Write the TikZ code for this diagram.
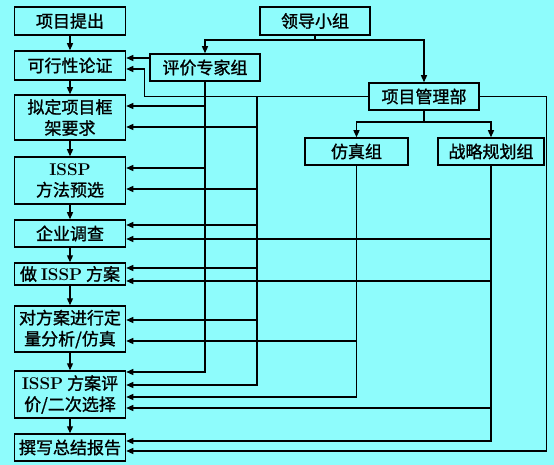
\documentclass[tikz,border=0pt]{standalone}
\usepackage{fontspec}
\newfontfamily\cjk{Noto Sans CJK SC}[FakeBold=1.2]
\usetikzlibrary{arrows.meta}
\definecolor{bgcyan}{RGB}{142,252,252}
\newcommand{\issp}{\textrm{\bfseries ISSP}}

\begin{document}
\begin{tikzpicture}[
    x=1pt, y=-1pt,
    box/.style={
      draw, line width=1.5pt, minimum width=111pt, minimum height=#1,
      inner sep=1pt, align=center, font=\cjk\fontsize{17}{21}\selectfont
    },
    box/.default=27pt,
    link/.style={line width=1.2pt},
    >={Triangle[length=7pt,width=6pt]}
  ]
  \fill[bgcyan] (0,0) rectangle (554,465);

  % Project steps (left column, top to bottom)
  \node[box=28pt] (b1) at (70,21)    {项目提出};
  \node[box=29pt] (b2) at (70,65.5)  {可行性论证};
  \node[box=45pt] (b3) at (70,117.5) {拟定项目框\\架要求};
  \node[box=47pt] (b4) at (70,180.5) {\issp\\方法预选};
  \node[box=27pt] (b5) at (70,233.5) {企业调查};
  \node[box=22pt] (b6) at (70,274)   {做 \issp{} 方案};
  \node[box=46pt] (b7) at (70,329)   {对方案进行定\\量分析/仿真};
  \node[box=47pt] (b8) at (70,394.5) {\issp{} 方案评\\价/二次选择};
  \node[box=27pt] (b9) at (70,447.5) {撰写总结报告};

  % Organisation (right)
  \node[box=28pt, minimum width=110pt] (lead) at (315,21)    {领导小组};
  \node[box=27pt, minimum width=110pt] (exp)  at (205,67.5)  {评价专家组};
  \node[box=27pt, minimum width=110pt] (pm)   at (424,96.5)  {项目管理部};
  \node[box=27pt, minimum width=103pt] (sim)  at (356.5,151.5) {仿真组};
  \node[box=27pt, minimum width=106pt] (plan) at (491,151.5) {战略规划组};

  % Step chain
  \foreach \i/\j in {b1/b2, b2/b3, b3/b4, b4/b5, b5/b6, b6/b7, b7/b8, b8/b9} {
    \draw[link,->] (\i) -- (\j);
  }

  % Leadership tree
  \coordinate (j1) at (lead.south |- 0,40);
  \draw[link] (lead.south) -- (j1);
  \draw[link,->] (j1) -| (exp.north);
  \draw[link,->] (j1) -| (pm.north);
  \coordinate (j2) at (pm.south |- 0,122);
  \draw[link] (pm.south) -- (j2);
  \draw[link,->] (j2) -| (sim.north);
  \draw[link,->] (j2) -| (plan.north);

  % Expert group
  \draw[link,->] (exp.west |- 0,58) -- (b2.east |- 0,58);
  \draw[link,->] (exp.south) |- (b8.east |- 0,372);
  \foreach \b/\y in {b3/106, b4/168} {
    \draw[link,->] (exp.south |- 0,\y) -- (\b.east |- 0,\y);
  }

  % Management
  \draw[link,->] (pm.west) -- ++(-224,0) |- (b2.east |- 0,69);
  \coordinate (t1) at (257,96.5);
  \draw[link,->] (t1) |- (b8.east |- 0,385);
  \foreach \b/\y in {b3/127, b4/189, b5/225, b6/268, b7/320} {
    \draw[link,->] (t1 |- 0,\y) -- (\b.east |- 0,\y);
  }
  \draw[link,->] (pm.east) -- ++(67,0) |- (b9.east |- 0,451);

  % Simulation group
  \draw[link,->] (sim.south) |- (b8.east |- 0,397);
  \draw[link,->] (sim.south |- 0,341) -- (b7.east |- 0,341);

  % Strategy group
  \draw[link,->] (plan.south) |- (b9.east |- 0,441);
  \foreach \b/\y in {b5/239, b6/281, b8/408} {
    \draw[link,->] (plan.south |- 0,\y) -- (\b.east |- 0,\y);
  }
\end{tikzpicture}
\end{document}
